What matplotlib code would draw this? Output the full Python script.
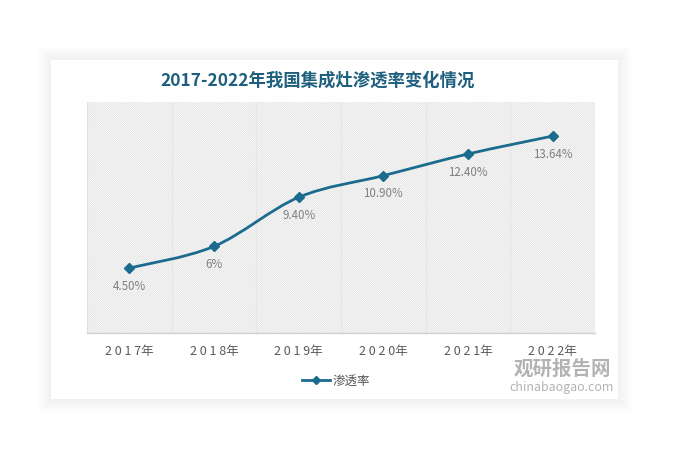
import matplotlib
matplotlib.use("Agg")
import matplotlib.pyplot as plt
import numpy as np
from matplotlib.path import Path
from matplotlib.patches import PathPatch, Rectangle
from matplotlib.lines import Line2D

plt.rcParams['font.family'] = ['Noto Sans CJK SC', 'DejaVu Sans']
plt.rcParams['hatch.linewidth'] = 0.4
plt.rcParams['hatch.color'] = "#D8D8D8"

categories = ["2017年", "2018年", "2019年", "2020年", "2021年", "2022年"]
values = [4.50, 6.0, 9.40, 10.90, 12.40, 13.64]
labels = ["4.50%", "6%", "9.40%", "10.90%", "12.40%", "13.64%"]
series_name = "渗透率"
title = "2017-2022年我国集成灶渗透率变化情况"

W, H = 673, 453
fig = plt.figure(figsize=(W / 100, H / 100), dpi=100)
fig.patch.set_facecolor("white")

def fx(px): return px / W
def fy(py): return 1 - py / H

# card shadow + card
cx0, cy0, cx1, cy1 = 51, 60, 618, 399
for i in range(14, 0, -1):
    fig.patches.append(Rectangle((fx(cx0 - i), fy(cy1 + i)), (cx1 - cx0 + 2 * i) / W,
                                 (cy1 - cy0 + 2 * i) / H, transform=fig.transFigure,
                                 facecolor="#000000", alpha=0.005, edgecolor="none", zorder=0))
fig.patches.append(Rectangle((fx(cx0), fy(cy1)), (cx1 - cx0) / W, (cy1 - cy0) / H,
                             transform=fig.transFigure, facecolor="white",
                             edgecolor="none", zorder=1))

ax = fig.add_axes([fx(87), fy(333), (595 - 87) / W, (333 - 102) / H])
ax.set_zorder(2)
ax.set_facecolor("white")
ax.add_patch(Rectangle((0, 0), 1, 1, transform=ax.transAxes, facecolor="white",
                       edgecolor="#D8D8D8", hatch="\\" * 18, linewidth=0, zorder=0))

x = np.arange(len(categories))
ax.set_xlim(-0.5, len(categories) - 0.5)
ax.set_ylim(0, 16)

for b in np.arange(0.5, len(categories) - 0.5, 1):
    ax.axvline(b, color="#E6E6E6", linewidth=0.9, zorder=1)

for s in ["top", "right"]:
    ax.spines[s].set_visible(False)
ax.spines["left"].set_color("#E0E0E0")
ax.spines["bottom"].set_color("#D0D0D0")
ax.spines["bottom"].set_linewidth(1.0)
ax.set_yticks([])
ax.set_xticks(x)
ax.set_xticklabels([" ".join(list(c[:4])) + c[4:] for c in categories], color="#595959", fontsize=9)
ax.tick_params(axis="x", length=0, pad=9)

# smooth curve (Catmull-Rom as cubic Bezier)
color = "#1B6B8F"
pts = np.column_stack([x, values]).astype(float)
verts = [tuple(pts[0])]
codes = [Path.MOVETO]
n = len(pts)
for i in range(n - 1):
    p0 = pts[i - 1] if i > 0 else pts[i]
    p1 = pts[i]
    p2 = pts[i + 1]
    p3 = pts[i + 2] if i + 2 < n else pts[i + 1]
    c1 = p1 + (p2 - p0) / 6
    c2 = p2 - (p3 - p1) / 6
    verts += [tuple(c1), tuple(c2), tuple(p2)]
    codes += [Path.CURVE4] * 3
ax.add_patch(PathPatch(Path(verts, codes), facecolor="none", edgecolor=color,
                       linewidth=2.0, zorder=3))
ax.plot(x, values, linestyle="none", marker="D", markersize=5.5, color=color, zorder=4)

for xi, v, lab in zip(x, values, labels):
    ax.annotate(lab, (xi, v), xytext=(0, -13), textcoords="offset points",
                ha="center", va="center", fontsize=8.3, color="#7F7F7F", zorder=5)

fig.text(fx(318), fy(81), title, ha="center", va="center", fontsize=12.5,
         fontweight="bold", color="#1E5F7E", zorder=5)

# legend
leg_handle = Line2D([0], [0], color=color, linewidth=2.0, marker="D", markersize=4.5)
leg = fig.legend([leg_handle], [series_name], loc="center", bbox_to_anchor=(fx(336), fy(381)),
                 frameon=False, fontsize=9, handlelength=2.2, handletextpad=0.2,
                 labelcolor="#595959")
leg.set_zorder(5)

# watermark
fig.text(fx(562), fy(369), "观研报告网", ha="center", va="center", fontsize=14,
         fontweight="bold", color="#9A9A9A", alpha=0.75, zorder=6)
fig.text(fx(562), fy(388), "chinabaogao.com", ha="center", va="center", fontsize=9,
         color="#9A9A9A", alpha=0.75, zorder=6)

fig.savefig("out.png", dpi=100, facecolor="white")
